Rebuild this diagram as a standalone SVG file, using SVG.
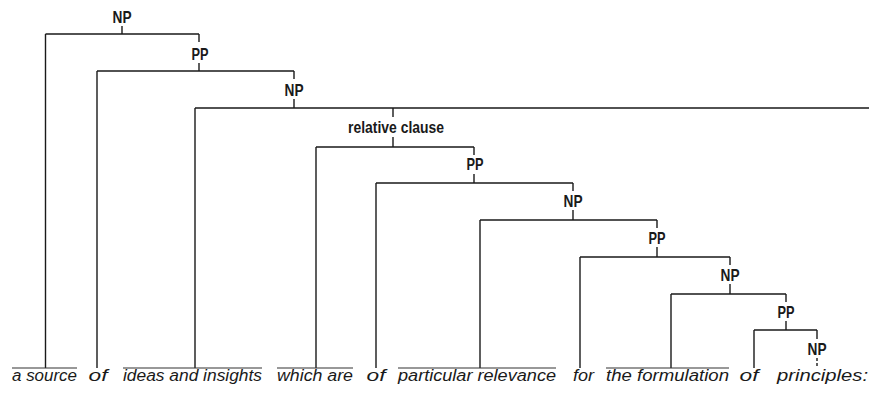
<svg xmlns="http://www.w3.org/2000/svg" width="869" height="394" viewBox="0 0 869 394">
<style>
.lbl{font-family:"Liberation Sans",Arial,sans-serif;font-weight:bold;font-size:16.5px;fill:#1a1a1a;text-anchor:middle}
.w{font-family:"Liberation Sans",Arial,sans-serif;font-style:italic;font-size:16px;fill:#1a1a1a;text-anchor:middle}
.ln{stroke:#1a1a1a;stroke-width:1.4;fill:none;stroke-linecap:butt}
.ul{stroke:#333;stroke-width:1.1;fill:none}
</style>
<rect width="869" height="394" fill="#fff"/>
<g id="connectors">
  <path class="ln" d="M122 26V34M45.5 34H199M45.5 34V368"/>
  <path class="ln" d="M199 34V42M199 63V71M97 71H294M97 71V368"/>
  <path class="ln" d="M294 71V79M294 99V108M195 108H869M195 108V368"/>
  <path class="ln" d="M393 108V117M393 137V147M316 147H474M316 147V368"/>
  <path class="ln" d="M474 147V155M474 174V183M376 183H573M376 183V368"/>
  <path class="ln" d="M573 183V191M573 210V220M480 220H657M480 220V368"/>
  <path class="ln" d="M657 220V228M657 247V257M580 257H730M580 257V368"/>
  <path class="ln" d="M730 257V265M730 284V294M671 294H786M671 294V368"/>
  <path class="ln" d="M786 294V302M786 321V330M754 330H817M754 330V368"/>
  <path class="ln" d="M817 330V339"/>
  <path class="ln" d="M817 358V368" stroke-dasharray="3 2"/>
  <path class="ul" d="M12 368H77M123 368H262M277 368H353M398 368H556M606 368H729"/>
</g>
<g id="n-np1"><text class="lbl" x="122" y="22.5" textLength="19" lengthAdjust="spacingAndGlyphs">NP</text></g>
<g id="n-pp1"><text class="lbl" x="200" y="59.5" textLength="17" lengthAdjust="spacingAndGlyphs">PP</text></g>
<g id="n-np2"><text class="lbl" x="294" y="95.5" textLength="19" lengthAdjust="spacingAndGlyphs">NP</text></g>
<g id="n-rel"><text class="lbl" x="396" y="132.5" textLength="96" lengthAdjust="spacingAndGlyphs">relative clause</text></g>
<g id="n-pp2"><text class="lbl" x="475" y="169.5" textLength="17" lengthAdjust="spacingAndGlyphs">PP</text></g>
<g id="n-np3"><text class="lbl" x="573" y="206.5" textLength="19" lengthAdjust="spacingAndGlyphs">NP</text></g>
<g id="n-pp3"><text class="lbl" x="657" y="243.5" textLength="17" lengthAdjust="spacingAndGlyphs">PP</text></g>
<g id="n-np4"><text class="lbl" x="730" y="280.5" textLength="19" lengthAdjust="spacingAndGlyphs">NP</text></g>
<g id="n-pp4"><text class="lbl" x="786" y="317.5" textLength="17" lengthAdjust="spacingAndGlyphs">PP</text></g>
<g id="n-np5"><text class="lbl" x="817" y="354.5" textLength="19" lengthAdjust="spacingAndGlyphs">NP</text></g>
<g id="words">
  <text class="w" x="44.5" y="381" textLength="65" lengthAdjust="spacingAndGlyphs">a source</text>
  <text class="w" x="98" y="381" textLength="19" lengthAdjust="spacingAndGlyphs">of</text>
  <text class="w" x="192.5" y="381" textLength="139" lengthAdjust="spacingAndGlyphs">ideas and insights</text>
  <text class="w" x="315" y="381" textLength="76" lengthAdjust="spacingAndGlyphs">which are</text>
  <text class="w" x="376" y="381" textLength="19" lengthAdjust="spacingAndGlyphs">of</text>
  <text class="w" x="477" y="381" textLength="158" lengthAdjust="spacingAndGlyphs">particular relevance</text>
  <text class="w" x="583.5" y="381" textLength="21" lengthAdjust="spacingAndGlyphs">for</text>
  <text class="w" x="667.5" y="381" textLength="123" lengthAdjust="spacingAndGlyphs">the formulation</text>
  <text class="w" x="749" y="381" textLength="19" lengthAdjust="spacingAndGlyphs">of</text>
  <text class="w" x="822.5" y="381" textLength="91" lengthAdjust="spacingAndGlyphs">principles:</text>
</g>
</svg>
